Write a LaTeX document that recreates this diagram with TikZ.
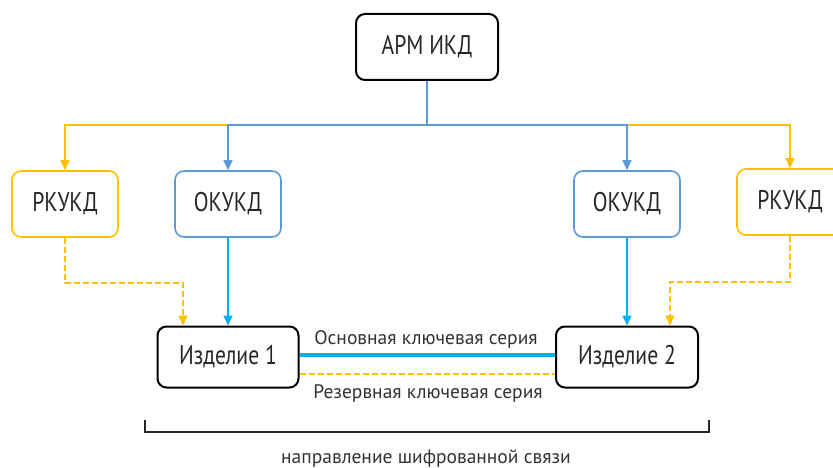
\documentclass[tikz,border=0pt]{standalone}
\usepackage{fontspec}
\setmainfont[FakeStretch=0.8]{PT Sans}
\newfontfamily\lblfont{PT Sans}
\usetikzlibrary{arrows.meta}

\definecolor{yel}{HTML}{FFC000}
\definecolor{blu}{HTML}{5B9BD5}
\definecolor{cya}{HTML}{00B0F0}

\tikzset{
  box/.style={draw, line width=1.6pt, rounded corners=9pt, minimum width=106pt,
    minimum height=66pt, font=\fontsize{27}{27}\selectfont, text=black!85},
  tip/.style={-{Triangle[length=10pt,width=9pt]}},
  dsh/.style={dash pattern=on 6pt off 3pt},
  lbl/.style={font=\lblfont\fontsize{19.5}{19.5}\selectfont, text=black!80},
}

\begin{document}
\begin{tikzpicture}[x=1pt, y=-1pt]

	\useasboundingbox (0,0) rectangle (833,468);

	\node[box, line width=2pt, minimum width=142pt] (arm) at (427,47) {АРМ ИКД};
	\node[box, draw=yel] (rkukdL) at (65,204) {РКУКД};
	\node[box, draw=blu] (okukdL) at (228,204) {ОКУКД};
	\node[box, draw=blu] (okukdR) at (627,204) {ОКУКД};
	\node[box, draw=yel] (rkukdR) at (790,202) {РКУКД};
	\node[box, line width=2pt, minimum width=141pt, minimum height=61pt] (izd1) at (228,357) {Изделие 1};
	\node[box, line width=2pt, minimum width=142pt, minimum height=61pt] (izd2) at (627,357) {Изделие 2};
	\coordinate (bus) at (427,125);

	% distribution
	\draw[yel, line width=1.5pt, tip] (bus) -| (rkukdL);
	\draw[yel, line width=1.5pt, tip] (bus) -| (rkukdR);
	\draw[blu, line width=1.5pt, tip] (arm) -- (bus) -| (okukdL);
	\draw[blu, line width=1.5pt, tip] (bus) -| (okukdR);

	% keys to devices
	\draw[cya, line width=1.5pt, tip] (okukdL) -- (izd1.north -| okukdL);
	\draw[cya, line width=1.5pt, tip] (okukdR) -- (izd2.north -| okukdR);
	\draw[yel, line width=1.5pt, dsh, tip] (rkukdL.south) -- ++(0,45) -| ([xshift=-45pt]izd1.north);
	\draw[yel, line width=1.5pt, dsh, tip] (rkukdR.south) -- ++(0,46) -| ([xshift=43pt]izd2.north);

	% series between devices
	\draw[cya, line width=4pt] ([yshift=2pt]izd1.east) -- ([yshift=2pt]izd2.west);
	\draw[yel, line width=2pt, dsh] ([yshift=-17pt]izd1.east) -- ([yshift=-17pt]izd2.west);
	\node[lbl] (mainser) at (426,340) {Основная ключевая серия};
	\node[lbl] (resser) at (428,394) {Резервная ключевая серия};

	% bracket
	\coordinate (brL) at (145,420);
	\coordinate (brR) at (709,420);
	\draw[line width=1.5pt, black!85] (brL) -- ++(0,12) -- ([yshift=-12pt]brR) -- (brR);
	\node[lbl] (dir) at (426,459) {направление шифрованной связи};

\end{tikzpicture}
\end{document}
